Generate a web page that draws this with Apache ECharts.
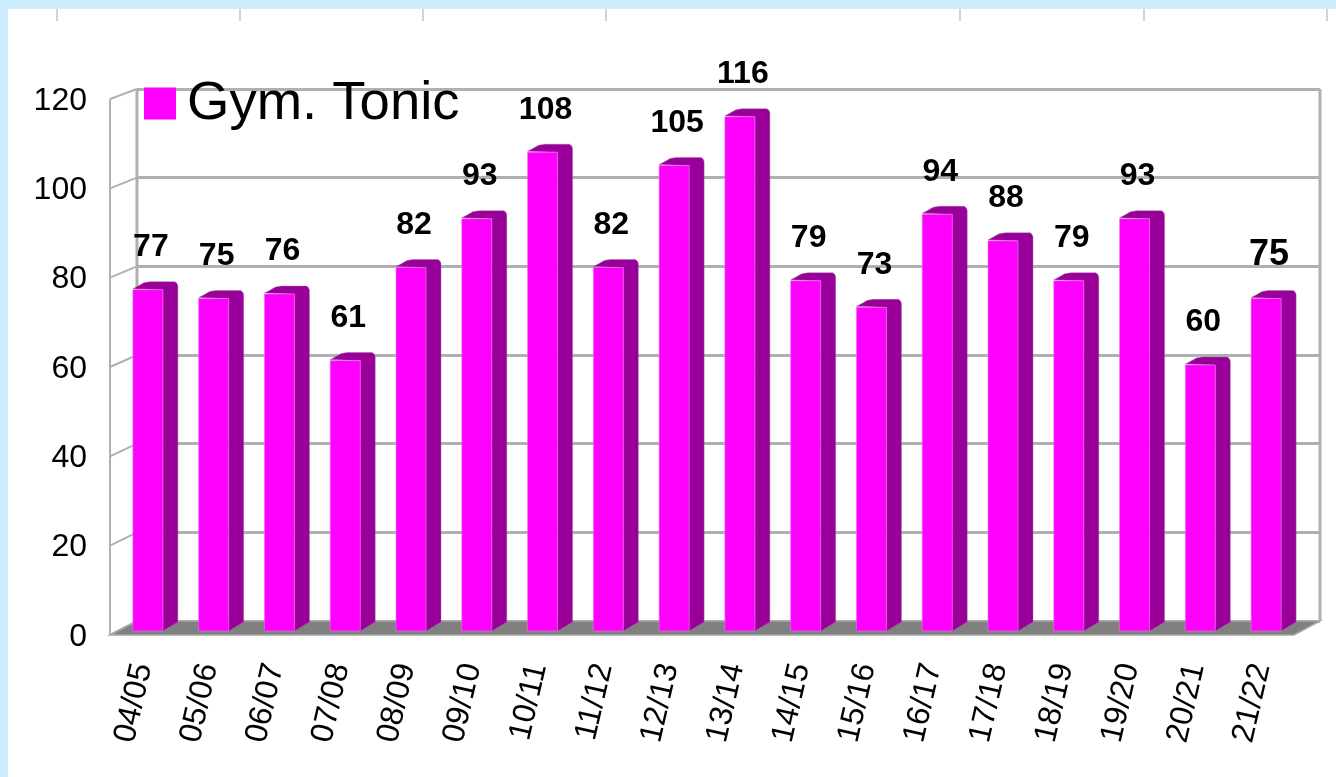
<!DOCTYPE html>
<html><head><meta charset="utf-8">
<style>html,body{margin:0;padding:0;background:#cceeff;overflow:hidden}
#c{position:absolute;left:0;top:0;width:1336px;height:777px}</style>
<script src="https://cdn.jsdelivr.net/npm/echarts@6/dist/echarts.min.js"></script>
</head><body><div id="c"></div>
<script>
const categories=['04/05','05/06','06/07','07/08','08/09','09/10','10/11','11/12','12/13','13/14','14/15','15/16','16/17','17/18','18/19','19/20','20/21','21/22'];
const seriesName='Gym. Tonic';
const values=[77,75,76,61,82,93,108,82,105,116,79,73,94,88,79,93,60,75];
const topTicks=[57,240,423,606,960,1144,1327];

const FONT='"Liberation Sans",Arial,sans-serif';
const GRAY='#b0b0b0';
const chart=echarts.init(document.getElementById('c'),null,{renderer:'canvas'});
const hiddenAxis={show:false};
const front={left:110,top:99,width:1184,height:536};
const back={left:137,top:89,width:1183,height:532};
const bars={left:120,top:99,width:1184,height:532};
const labelGrid={left:110,top:101,width:1184,height:536};

function renderBar(params,api){
  const i=api.value(0),v=api.value(1);
  const p=api.coord([i,v]),b=api.coord([i,0]);
  const w=30,dx=16,dy=8;
  const x0=p[0]-w/2-5,x1=x0+w,t=p[1],bt=b[1];
  const last=i===values.length-1;
  const topPts=[[x1,t],[x1,bt],[x1+dx-1,bt-dy-1],[x1+dx-1,t-dy+4],[x1+dx-2,t-dy+1.5],[x1+dx-4,t-dy],[x0+dx+1,t-dy],[x0+dx-5,t-dy+1],[x0+4,t-3],[x0,t-1]];
  return {type:'group',children:[
    {type:'polygon',shape:{points:topPts},style:{fill:'#990099',stroke:'rgba(150,110,150,0.4)',lineWidth:1}},
    {type:'rect',shape:{x:x0,y:t,width:w,height:bt-t},style:{fill:'#ff00ff',stroke:'rgba(230,120,230,0.55)',lineWidth:1}},
    {type:'text',style:{x:(x0+x1)/2+3,y:t-(last?43:42.5),text:String(v),align:'center',verticalAlign:'middle',font:'bold '+(last?36:32)+'px '+FONT,fill:'#000'}}
  ]};
}
function renderFrame(params,api){
  const v=api.value(0);
  const y=api.coord([0,v])[1];
  const l=params.coordSys.x;
  const by=back.top+(1-v/120)*back.height;
  return {type:'line',shape:{x1:l,y1:y,x2:back.left,y2:by},style:{stroke:GRAY,lineWidth:2}};
}
function renderFloor(params,api){
  const c=params.coordSys;
  const fy=c.y+c.height,by=back.top+back.height,fr=c.x+c.width,br=back.left+back.width;
  return {type:'group',children:[
    {type:'polygon',shape:{points:[[c.x,fy],[back.left,by],[br,by],[fr,fy]]},style:{fill:'#808080',stroke:'#a8a8a8',lineWidth:1.5}},
    {type:'line',shape:{x1:c.x,y1:c.y,x2:c.x,y2:fy},style:{stroke:GRAY,lineWidth:2}},
    {type:'line',shape:{x1:br,y1:back.top,x2:br,y2:by},style:{stroke:GRAY,lineWidth:3}},
    {type:'line',shape:{x1:back.left,y1:back.top,x2:back.left,y2:by},style:{stroke:GRAY,lineWidth:3}}
  ]};
}

chart.setOption({
  animation:false,
  backgroundColor:'transparent',
  graphic:[
    {type:'rect',z:-10,shape:{x:8,y:9,width:1328,height:768},style:{fill:'#fff'}},
    ...topTicks.map(x=>({type:'line',z:-9,shape:{x1:x,y1:9,x2:x,y2:21},style:{stroke:'#c4c4c4',lineWidth:1.5}}))
  ],
  legend:{show:true,left:139,top:71,data:[{name:seriesName,icon:'rect'}],itemWidth:32,itemHeight:32,itemGap:0,
    textStyle:{fontFamily:FONT,fontSize:54.5,color:'#000',padding:[4,0,0,6]},selectedMode:false,z:20},
  grid:[
    {...front,containLabel:false},
    {...back},
    {...bars},
    {...labelGrid}
  ],
  xAxis:[
    {gridIndex:0,type:'category',data:categories,axisLine:{show:false},axisTick:{show:false},
     axisLabel:{interval:0,rotate:77,margin:29,fontFamily:FONT,fontSize:32,color:'#000'}},
    {gridIndex:1,type:'category',data:categories,...hiddenAxis},
    {gridIndex:2,type:'category',data:categories,...hiddenAxis},
    {gridIndex:3,type:'category',data:categories,...hiddenAxis}
  ],
  yAxis:[
    {gridIndex:0,type:'value',min:0,max:120,interval:20,...hiddenAxis},
    {gridIndex:1,type:'value',min:0,max:120,interval:20,axisLine:{show:false},axisTick:{show:false},axisLabel:{show:false},
     splitLine:{show:true,lineStyle:{color:GRAY,width:3}}},
    {gridIndex:2,type:'value',min:0,max:120,interval:20,...hiddenAxis},
    {gridIndex:3,type:'value',min:0,max:120,interval:20,axisLine:{show:false},axisTick:{show:false},splitLine:{show:false},
     axisLabel:{margin:23,fontFamily:FONT,fontSize:32,color:'#000'}}
  ],
  series:[
    {type:'custom',name:'frame',xAxisIndex:0,yAxisIndex:0,clip:false,z:3,silent:true,renderItem:renderFrame,
     data:[0,20,40,60,80,100,120].map(v=>[v]),encode:{y:0}},
    {type:'custom',name:'floor',xAxisIndex:0,yAxisIndex:0,clip:false,z:4,silent:true,renderItem:renderFloor,data:[[0]]},
    {type:'custom',name:seriesName,xAxisIndex:2,yAxisIndex:2,clip:false,z:10,renderItem:renderBar,itemStyle:{color:'#ff00ff'},
     data:values.map((v,i)=>[i,v]),encode:{x:0,y:1}}
  ]
});
</script></body></html>
